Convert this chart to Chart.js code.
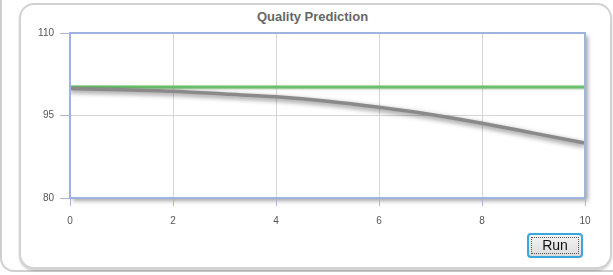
<!DOCTYPE html>
<html><head><meta charset="utf-8">
<script src="https://cdn.jsdelivr.net/npm/chart.js@4"></script>
<style>
html,body{margin:0;padding:0;background:#fff;overflow:hidden;}
#outer{position:absolute;left:0;top:-20px;width:640px;height:292px;border:2px solid #cfcfcf;border-radius:14px;box-sizing:border-box;}
#inner{position:absolute;left:19px;top:3px;width:593px;height:266px;border:2px solid #d2d2d2;border-radius:15px;box-sizing:border-box;box-shadow:0 2px 2px rgba(0,0,0,0.18);background:#fff;}
#title{position:absolute;left:0;width:625px;top:9px;text-align:center;font:bold 13px "Liberation Sans",Arial,sans-serif;color:#666;}
#wrap{position:absolute;left:0;top:0;width:613px;height:275px;}
#run{position:absolute;left:527px;top:233px;width:56px;height:25px;border:2px solid #3aa6dc;border-radius:4px;background:linear-gradient(#f4f4f4,#dcdcdc);box-sizing:border-box;font:14px "Liberation Sans",Arial,sans-serif;color:#111;padding:0;}
#run span{display:block;margin:2px;border:1px dotted #555;line-height:15px;}
</style></head>
<body>
<div id="outer"></div>
<div id="inner"></div>
<div id="title">Quality Prediction</div>
<div id="wrap"><canvas id="c" width="613" height="275"></canvas></div>
<button id="run"><span>Run</span></button>
<script>
const xValues = [0,1,2,3,4,5,6,7,8,9,10];
const predicted = [99.9,99.7,99.4,98.9,98.4,97.6,96.5,95.2,93.6,91.8,90.0];
const target = [100.2,100.2,100.2,100.2,100.2,100.2,100.2,100.2,100.2,100.2,100.2];
const xTicks = [0,2,4,6,8,10];
const yTicks = [80,95,110];

const boxPlugin = {
  id:'box',
  beforeDraw(chart){
    const {ctx, chartArea:a} = chart;
    ctx.save();
    ctx.shadowColor='rgba(0,0,0,0.35)';
    ctx.shadowBlur=4; ctx.shadowOffsetX=3; ctx.shadowOffsetY=3;
    ctx.fillStyle='#fff';
    ctx.fillRect(a.left,a.top,a.right-a.left,a.bottom-a.top);
    ctx.restore();
  },
  beforeDatasetDraw(chart,args){
    const ctx=chart.ctx; ctx.save();
    if(args.index===0){
      ctx.shadowColor='rgba(0,0,0,0.5)';
      ctx.shadowBlur=5; ctx.shadowOffsetY=2;
    } else {
      ctx.shadowColor='rgba(0,80,0,0.25)';
      ctx.shadowBlur=2; ctx.shadowOffsetY=1;
    }
  },
  afterDatasetDraw(chart){ chart.ctx.restore(); },
  afterDraw(chart){
    const {ctx, chartArea:a} = chart;
    ctx.save();
    ctx.strokeStyle='#9fb2e0'; ctx.lineWidth=2;
    ctx.strokeRect(a.left,a.top,a.right-a.left,a.bottom-a.top);
    ctx.restore();
  }
};

new Chart(document.getElementById('c'),{
  type:'line',
  data:{datasets:[
    {data:xValues.map((x,i)=>({x,y:predicted[i]})),borderColor:'#8a8a8a',borderWidth:3.5,pointRadius:0,cubicInterpolationMode:'monotone',fill:false},
    {data:xValues.map((x,i)=>({x,y:target[i]})),borderColor:'#6cc06c',borderWidth:3,pointRadius:0,fill:false}
  ]},
  options:{
    responsive:false, animation:false,
    layout:{padding:{left:0,right:28,top:33,bottom:0}},
    plugins:{legend:{display:false},tooltip:{enabled:false},title:{display:false}},
    scales:{
      x:{type:'linear',min:0,max:10,
        afterBuildTicks(s){s.ticks=xTicks.map(v=>({value:v}));},
        afterFit(s){s.height=77;},
        grid:{color:'#d6d6d6',tickColor:'#a9b6d6',tickLength:8,lineWidth:1},
        border:{display:false},
        ticks:{color:'#555',font:{family:'"Liberation Sans", Arial, sans-serif',size:10},padding:9,maxRotation:0}
      },
      y:{min:80,max:110,
        afterBuildTicks(s){s.ticks=yTicks.map(v=>({value:v}));},
        afterFit(s){s.width=70;},
        grid:{color:'#d6d6d6',tickColor:'#a9b6d6',tickLength:10,lineWidth:1},
        border:{display:false},
        ticks:{color:'#555',font:{family:'"Liberation Sans", Arial, sans-serif',size:10},padding:6}
      }
    }
  },
  plugins:[boxPlugin]
});
</script>
</body></html>
